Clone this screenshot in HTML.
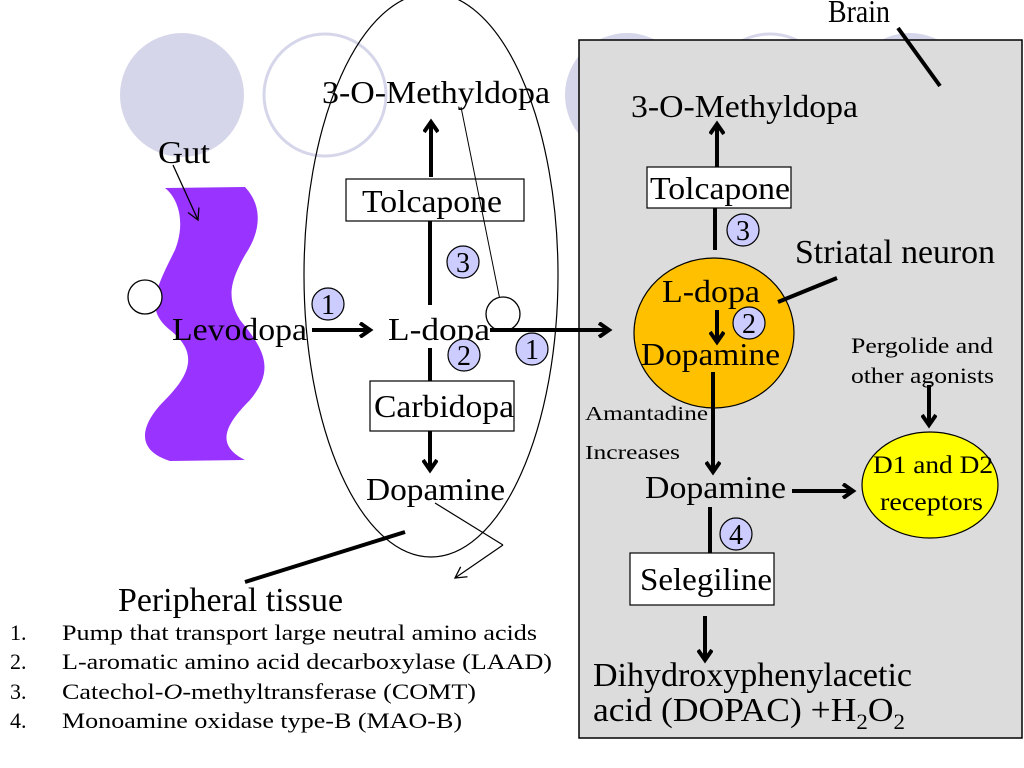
<!DOCTYPE html>
<html><head><meta charset="utf-8"><style>
html,body{margin:0;padding:0;background:#fff;}
svg{display:block;font-family:"Liberation Serif",serif;}
</style></head><body>
<svg width="1024" height="768" viewBox="0 0 1024 768" xmlns="http://www.w3.org/2000/svg">
<defs>
<marker id="ah" markerWidth="16" markerHeight="16" refX="12" refY="8" orient="auto" markerUnits="userSpaceOnUse"><path d="M2,1 L12,8 L2,15" fill="none" stroke="#000" stroke-width="4"/></marker>
<marker id="ahs" markerWidth="14" markerHeight="14" refX="12" refY="7" orient="auto" markerUnits="userSpaceOnUse"><path d="M1,1 L12,7 L1,13" fill="none" stroke="#000" stroke-width="1.3"/></marker>
</defs>
<circle cx="182" cy="95" r="62" fill="#d6d6ea"/>
<circle cx="325" cy="95" r="61" fill="none" stroke="#d6d6ea" stroke-width="3"/>
<circle cx="627" cy="95" r="62" fill="#d6d6ea"/>
<circle cx="770" cy="95" r="61" fill="none" stroke="#d6d6ea" stroke-width="3"/>
<circle cx="910" cy="95" r="62" fill="#d6d6ea"/>
<rect x="579" y="40" width="443" height="698" fill="#dcdcdc" stroke="#000" stroke-width="1.5"/>
<g lengthAdjust="spacingAndGlyphs">
<text x="828" y="22" font-size="32" textLength="62" lengthAdjust="spacingAndGlyphs">Brain</text>
</g>
<line x1="898" y1="28" x2="940" y2="86" stroke="#000" stroke-width="4"/>
<path d="M165,188 L245,187 C262,205 262,230 245,255 C228,285 228,300 240,320 C265,350 275,370 250,400 C225,425 215,445 245,460 L170,461 C135,450 140,425 165,400 C195,370 195,350 170,330 C145,310 155,290 175,250 C185,225 180,200 165,188 Z" fill="#9933ff"/>
<text x="158" y="163" font-size="32" textLength="52" lengthAdjust="spacingAndGlyphs">Gut</text>
<line x1="173" y1="165" x2="198" y2="220" stroke="#000" stroke-width="1.3" marker-end="url(#ahs)"/>
<circle cx="145" cy="297" r="17" fill="#fff" stroke="#000" stroke-width="1.3"/>
<ellipse cx="431" cy="275" rx="127" ry="282" fill="none" stroke="#000" stroke-width="1.2"/>
<text x="322" y="103" font-size="32" textLength="228" lengthAdjust="spacingAndGlyphs">3-O-Methyldopa</text>
<line x1="431" y1="177" x2="431" y2="122" stroke="#000" stroke-width="4" marker-end="url(#ah)"/>
<rect x="346" y="179" width="178" height="42" fill="#fff" stroke="#000" stroke-width="1.2"/>
<text x="362" y="212" font-size="32" textLength="140" lengthAdjust="spacingAndGlyphs">Tolcapone</text>
<line x1="430" y1="221" x2="430" y2="305" stroke="#000" stroke-width="4"/>
<line x1="430" y1="348" x2="430" y2="381" stroke="#000" stroke-width="4"/>
<line x1="461" y1="107" x2="503" y2="315" stroke="#000" stroke-width="1"/>
<text x="172" y="340" font-size="32" textLength="135" lengthAdjust="spacingAndGlyphs">Levodopa</text>
<line x1="312" y1="330" x2="370" y2="330" stroke="#000" stroke-width="4" marker-end="url(#ah)"/>
<text x="388" y="340" font-size="32" textLength="102" lengthAdjust="spacingAndGlyphs">L-dopa</text>
<circle cx="503" cy="314" r="17" fill="#fff" stroke="#000" stroke-width="1.3"/>
<line x1="490" y1="330" x2="609" y2="330" stroke="#000" stroke-width="4" marker-end="url(#ah)"/>
<g stroke="#000" stroke-width="1.2" fill="#ccccff">
<circle cx="328" cy="304" r="16"/><circle cx="463" cy="262" r="16"/><circle cx="464" cy="355" r="16"/><circle cx="532" cy="349" r="16"/><circle cx="743" cy="230" r="16"/><circle cx="736" cy="534" r="16"/><circle cx="749" cy="323" r="16"/>
</g>
<g font-size="28" text-anchor="middle">
<text x="328" y="314">1</text><text x="463" y="272">3</text><text x="464" y="365">2</text><text x="532" y="359">1</text><text x="743" y="240">3</text><text x="736" y="544">4</text><text x="749" y="333">2</text>
</g>
<rect x="370" y="381" width="144" height="50" fill="#fff" stroke="#000" stroke-width="1.2"/>
<text x="374" y="417" font-size="32" textLength="140" lengthAdjust="spacingAndGlyphs">Carbidopa</text>
<line x1="430" y1="431" x2="430" y2="470" stroke="#000" stroke-width="4" marker-end="url(#ah)"/>
<text x="366" y="500" font-size="32" textLength="139" lengthAdjust="spacingAndGlyphs">Dopamine</text>
<line x1="435" y1="503" x2="503" y2="545" stroke="#000" stroke-width="1.2"/>
<line x1="503" y1="545" x2="455" y2="578" stroke="#000" stroke-width="1.2" marker-end="url(#ahs)"/>
<line x1="405" y1="532" x2="245" y2="582" stroke="#000" stroke-width="4"/>
<text x="118" y="611" font-size="34" textLength="225" lengthAdjust="spacingAndGlyphs">Peripheral tissue</text>
<g font-size="22">
<text x="10" y="640">1.</text><text x="62" y="640" textLength="475" lengthAdjust="spacingAndGlyphs">Pump that transport large neutral amino acids</text>
<text x="10" y="669">2.</text><text x="62" y="669" textLength="490" lengthAdjust="spacingAndGlyphs">L-aromatic amino acid decarboxylase (LAAD)</text>
<text x="10" y="699">3.</text><text x="62" y="699" textLength="414" lengthAdjust="spacingAndGlyphs">Catechol-<tspan font-style="italic">O</tspan>-methyltransferase (COMT)</text>
<text x="10" y="728">4.</text><text x="62" y="728" textLength="400" lengthAdjust="spacingAndGlyphs">Monoamine oxidase type-B (MAO-B)</text>
</g>
<text x="631" y="117" font-size="32" textLength="227" lengthAdjust="spacingAndGlyphs">3-O-Methyldopa</text>
<line x1="717" y1="167" x2="717" y2="124" stroke="#000" stroke-width="4" marker-end="url(#ah)"/>
<rect x="647" y="167" width="144" height="41" fill="#fff" stroke="#000" stroke-width="1.2"/>
<text x="650" y="199" font-size="32" textLength="140" lengthAdjust="spacingAndGlyphs">Tolcapone</text>
<line x1="715" y1="208" x2="715" y2="250" stroke="#000" stroke-width="4"/>
<text x="795" y="263" font-size="34" textLength="200" lengthAdjust="spacingAndGlyphs">Striatal neuron</text>
<ellipse cx="714" cy="333" rx="80" ry="75" fill="#ffc000" stroke="#000" stroke-width="1.2"/>
<text x="662" y="302" font-size="32" textLength="98" lengthAdjust="spacingAndGlyphs">L-dopa</text>
<line x1="717" y1="310" x2="717" y2="342" stroke="#000" stroke-width="4" marker-end="url(#ah)"/>
<circle cx="749" cy="323" r="16" fill="#ccccff" stroke="#000" stroke-width="1.2"/>
<text x="749" y="333" font-size="28" text-anchor="middle">2</text>
<text x="641" y="365" font-size="32" textLength="139" lengthAdjust="spacingAndGlyphs">Dopamine</text>
<line x1="778" y1="302" x2="837" y2="278" stroke="#000" stroke-width="4"/>
<line x1="713" y1="372" x2="713" y2="472" stroke="#000" stroke-width="4" marker-end="url(#ah)"/>
<text x="585" y="420" font-size="20" textLength="123" lengthAdjust="spacingAndGlyphs">Amantadine</text>
<text x="585" y="459" font-size="20" textLength="95" lengthAdjust="spacingAndGlyphs">Increases</text>
<text x="645" y="498" font-size="32" textLength="141" lengthAdjust="spacingAndGlyphs">Dopamine</text>
<line x1="792" y1="491" x2="853" y2="491" stroke="#000" stroke-width="4" marker-end="url(#ah)"/>
<text x="851" y="353" font-size="22" textLength="142" lengthAdjust="spacingAndGlyphs">Pergolide and</text>
<text x="851" y="383" font-size="22" textLength="143" lengthAdjust="spacingAndGlyphs">other agonists</text>
<line x1="929" y1="385" x2="929" y2="425" stroke="#000" stroke-width="4" marker-end="url(#ah)"/>
<ellipse cx="930" cy="485" rx="68" ry="53" fill="#ffff00" stroke="#000" stroke-width="1.2"/>
<text x="873" y="473" font-size="25" textLength="120" lengthAdjust="spacingAndGlyphs">D1 and D2</text>
<text x="880" y="510" font-size="25" textLength="103" lengthAdjust="spacingAndGlyphs">receptors</text>
<line x1="710" y1="507" x2="710" y2="553" stroke="#000" stroke-width="4"/>
<rect x="630" y="553" width="144" height="52" fill="#fff" stroke="#000" stroke-width="1.2"/>
<text x="640" y="590" font-size="32" textLength="132" lengthAdjust="spacingAndGlyphs">Selegiline</text>
<line x1="705" y1="616" x2="705" y2="660" stroke="#000" stroke-width="4" marker-end="url(#ah)"/>
<text x="593" y="686" font-size="34" textLength="319" lengthAdjust="spacingAndGlyphs">Dihydroxyphenylacetic</text>
<text x="593" y="721" font-size="34" textLength="312" lengthAdjust="spacingAndGlyphs">acid (DOPAC) +H<tspan font-size="22" dy="8">2</tspan><tspan dy="-8">O</tspan><tspan font-size="22" dy="8">2</tspan></text>
</svg>
</body></html>
